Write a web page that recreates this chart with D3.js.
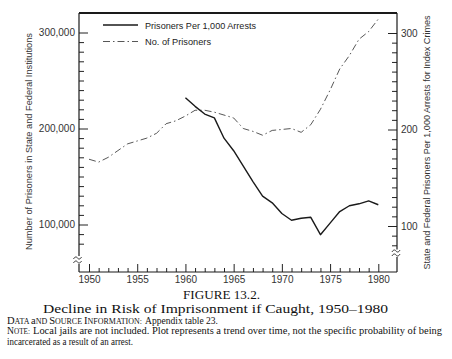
<!DOCTYPE html>
<html>
<head>
<meta charset="utf-8">
<script src="https://cdn.jsdelivr.net/npm/d3@7/dist/d3.min.js"></script>
<style>
  html, body { margin: 0; padding: 0; background: #fff; }
  svg { display: block; }
  .tick text { font-family: "Liberation Sans", Arial, sans-serif; font-size: 10px; fill: #333; }
  .domain { display: none; }
  .tick line { stroke: #222; stroke-width: 1; }
</style>
</head>
<body>
<svg id="chart" width="452" height="359"></svg>
<script>
// ---- data ----
const prisonerYears = [1950,1951,1952,1953,1954,1955,1956,1957,1958,1959,1960,1961,1962,1963,1964,1965,1966,1967,1968,1969,1970,1971,1972,1973,1974,1975,1976,1977,1978,1979,1980];
const prisonersThousands = [168,165,170,177,184,187,190,195,205,208,213,219,219,217,214,211,200,197,193,198,199,200,196,204,220,240,262,276,293,301,314];
const rateYears = [1960,1961,1962,1963,1964,1965,1966,1967,1968,1969,1970,1971,1972,1973,1974,1975,1976,1977,1978,1979,1980];
const ratePer1000 = [233,224,216,212,191,178,162,146,131,124,113,106,108,109,91,103,115,121,123,126,122];
const xTickLabels = [1950,1955,1960,1965,1970,1975,1980];
const leftTickLabels = [100000,200000,300000];
const rightTickLabels = [100,200,300];
const seriesNames = ["Prisoners Per 1,000 Arrests","No. of Prisoners"];

// ---- layout ----
const svg = d3.select("#chart");
const L = 79, R = 397, T = 13, B = 272;
const x = d3.scaleLinear().domain([1950,1980]).range([89,378.3]);
const yL = d3.scaleLinear().domain([100000,300000]).range([224.5,32.5]);
const yR = d3.scaleLinear().domain([100,300]).range([226,33]);

// x axis
const xMinor = d3.range(1950,1981).filter(v => v % 5 !== 0);
svg.append("g").attr("transform",`translate(0,${B})`)
  .call(d3.axisBottom(x).tickValues(xMinor).tickSize(-4).tickFormat(""));
svg.append("g").attr("transform",`translate(0,${B})`)
  .call(d3.axisBottom(x).tickValues(xTickLabels).tickSize(-8).tickPadding(4).tickFormat(d3.format("d")));

// left axis
const lMinor = d3.range(80000,300001,10000).filter(v => v % 100000 !== 0);
svg.append("g").attr("transform",`translate(${L},0)`)
  .call(d3.axisLeft(yL).tickValues(lMinor).tickSize(-5).tickFormat(""));
svg.append("g").attr("transform",`translate(${L},0)`)
  .call(d3.axisLeft(yL).tickValues(leftTickLabels).tickSize(-9).tickPadding(4).tickFormat(d3.format(",")));

// right axis
const rMinor = d3.range(80,301,10).filter(v => v % 100 !== 0);
svg.append("g").attr("transform",`translate(${R},0)`)
  .call(d3.axisRight(yR).tickValues(rMinor).tickSize(-5).tickFormat(""));
svg.append("g").attr("transform",`translate(${R},0)`)
  .call(d3.axisRight(yR).tickValues(rightTickLabels).tickSize(-9).tickPadding(4).tickFormat(d3.format("d")));

// frame
const frame = svg.append("g").attr("stroke","#1a1a1a").attr("fill","none");
frame.append("line").attr("x1",L).attr("x2",R).attr("y1",T).attr("y2",T).attr("stroke-width",1.8);
frame.append("line").attr("x1",L).attr("x2",R).attr("y1",B).attr("y2",B).attr("stroke-width",1.2);
frame.append("line").attr("x1",L).attr("x2",L).attr("y1",T).attr("y2",256).attr("stroke-width",1.2);
frame.append("line").attr("x1",L).attr("x2",L).attr("y1",264).attr("y2",B).attr("stroke-width",1.2);
frame.append("line").attr("x1",R).attr("x2",R).attr("y1",T).attr("y2",249.5).attr("stroke-width",1.2);
frame.append("line").attr("x1",R).attr("x2",R).attr("y1",257).attr("y2",B).attr("stroke-width",1.2);

function breakMark(cx, cy) {
  const g = svg.append("g").attr("fill","none").attr("stroke","#222").attr("stroke-width",0.9);
  [-2, 2].forEach(dy => {
    const y0 = cy + dy;
    g.append("path").attr("d",
      `M${cx-4},${y0+1} C${cx-2.5},${y0-2} ${cx-0.5},${y0-1} ${cx},${y0} S${cx+2.5},${y0+2} ${cx+4},${y0-1}`);
  });
}
breakMark(77.5, 260);
breakMark(396, 253);

// lines
const lineP = d3.line().x((d,i) => x(prisonerYears[i])).y(d => yL(d*1000));
svg.append("path").datum(prisonersThousands)
  .attr("d", lineP).attr("fill","none").attr("stroke","#444")
  .attr("stroke-width",0.9).attr("stroke-dasharray","7,3,1.5,3");

const lineR = d3.line().x((d,i) => x(rateYears[i])).y(d => yR(d));
svg.append("path").datum(ratePer1000)
  .attr("d", lineR).attr("fill","none").attr("stroke","#1a1a1a")
  .attr("stroke-width",1.4).attr("stroke-linejoin","round");

// legend
const lg = svg.append("g");
lg.append("line").attr("x1",103).attr("x2",138).attr("y1",25).attr("y2",25)
  .attr("stroke","#1a1a1a").attr("stroke-width",1.4);
lg.append("line").attr("x1",103).attr("x2",138).attr("y1",41.5).attr("y2",41.5)
  .attr("stroke","#444").attr("stroke-width",0.9).attr("stroke-dasharray","7,3,1.5,3");
lg.selectAll("text").data(seriesNames).join("text")
  .attr("x",145).attr("y",(d,i) => i ? 45 : 29)
  .attr("font-family","Liberation Sans, Arial, sans-serif").attr("font-size",9.5)
  .attr("fill","#222")
  .attr("textLength",(d,i) => i ? 66 : 111).attr("lengthAdjust","spacingAndGlyphs")
  .text(d => d);

// axis titles
svg.append("text")
  .attr("transform","translate(32,141.5) rotate(-90)")
  .attr("text-anchor","middle")
  .attr("font-family","Liberation Sans, Arial, sans-serif").attr("font-size",9.7).attr("fill","#333")
  .attr("textLength",217).attr("lengthAdjust","spacingAndGlyphs")
  .text("Number of Prisoners in State and Federal Institutions");
svg.append("text")
  .attr("transform","translate(430,142.5) rotate(-90)")
  .attr("text-anchor","middle")
  .attr("font-family","Liberation Sans, Arial, sans-serif").attr("font-size",9.5).attr("fill","#333")
  .attr("textLength",254).attr("lengthAdjust","spacingAndGlyphs")
  .text("State and Federal Prisoners Per 1,000 Arrests for Index Crimes");

// captions
svg.append("text").attr("x",221.5).attr("y",298.5).attr("text-anchor","middle")
  .attr("font-family","Liberation Serif, serif").attr("font-size",12).attr("fill","#111")
  .attr("textLength",77).attr("lengthAdjust","spacingAndGlyphs")
  .text("FIGURE 13.2.");
svg.append("text").attr("x",215.5).attr("y",313).attr("text-anchor","middle")
  .attr("font-family","Liberation Serif, serif").attr("font-size",13).attr("fill","#111")
  .attr("textLength",345).attr("lengthAdjust","spacingAndGlyphs")
  .text("Decline in Risk of Imprisonment if Caught, 1950–1980");

const note = svg.append("g").attr("font-family","Liberation Serif, serif").attr("fill","#111");
// small caps built from large + small capitals
function smallCaps(parts, x0, y0, w) {
  const t = note.append("text").attr("x",x0).attr("y",y0)
    .attr("textLength",w).attr("lengthAdjust","spacingAndGlyphs");
  parts.forEach(p => {
    t.append("tspan").attr("font-size",9.5).text(p[0]);
    t.append("tspan").attr("font-size",7.2).text(p.slice(1).toUpperCase());
  });
  return t;
}
function plain(str, x0, y0, w) {
  return note.append("text").attr("x",x0).attr("y",y0).attr("font-size",9.5)
    .attr("textLength",w).attr("lengthAdjust","spacingAndGlyphs").text(str);
}
smallCaps(["Data ", "and ", "Source ", "Information:"], 7, 323.5, 135);
plain("Appendix table 23.", 145, 323.5, 73);
smallCaps(["Note:"], 7, 334, 23);
plain("Local jails are not included. Plot represents a trend over time, not the specific probability of being", 33, 334, 409);
plain("incarcerated as a result of an arrest.", 7, 344.5, 126);
</script>
</body>
</html>
